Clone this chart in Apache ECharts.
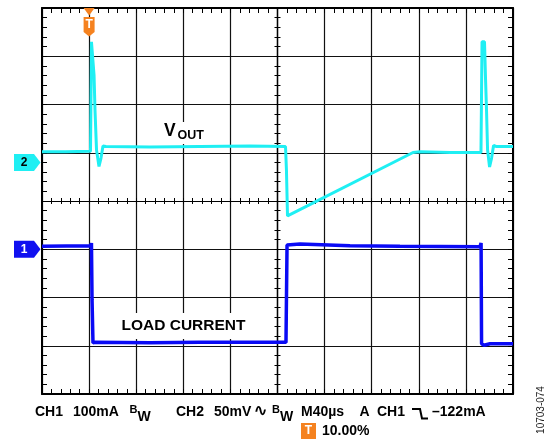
<!DOCTYPE html>
<html><head><meta charset="utf-8">
<script src="https://cdn.jsdelivr.net/npm/echarts@6/dist/echarts.min.js"></script>
<style>html,body{margin:0;padding:0;background:#fff}#c{width:550px;height:444px}</style>
</head><body><div id="c"></div>
<script>
// Time in µs relative to screen centre (40 µs/div); values in screen divisions
const ch2Time = [-200,-180,-158.8,-158.0,-156.7,-155.8,-155.0,-153.7,-151.6,-149.9,-148.2,-145.7,-108.3,-65.8,-23.4,6.8,7.6,8.5,9.8,115.1,121.0,146.5,172.8,173.7,175.8,176.7,177.5,178.4,180.1,181.8,183.5,185.6,200];
const ch2Div  = [1.02,1.02,1.03,3.30,3.30,2.61,1.89,1.06,0.715,0.89,1.14,1.13,1.12,1.13,1.14,1.13,0.64,-0.31,-0.29,1.005,1.02,1.005,1.005,3.30,3.30,2.51,1.89,1.06,0.705,0.89,1.15,1.13,1.13];
const ch1Time = [-200,-158.4,-158.0,-157.5,-156.7,-155.0,-108.3,-65.8,7.2,8.1,8.9,19.1,61.6,104,172,172.9,173.3,175.4,180.5,200];
const ch1Div  = [-0.94,-0.93,-0.87,-2.05,-2.94,-2.93,-2.94,-2.93,-2.93,-0.91,-0.88,-0.89,-0.93,-0.94,-0.95,-0.87,-2.96,-2.99,-2.96,-2.96];
const ch2Ref = 0.8, ch1Ref = -1.0, trigTime = -160;
const ch2Name = 'VOUT', ch1Name = 'LOAD CURRENT';
const row1 = [['CH1',35],['100mA',73],['CH2',176],['50mV',214],['M40µs',301],['A',359.5],['CH1',377],['\u2013122mA',432]];
const trigPct = '10.00%';
const figId = '10703-074';

const CYAN = '#1FEFF3', BLUE = '#0A0AF5', ORANGE = '#F5821F';
const FONT = '"Liberation Sans", Arial, Helvetica, sans-serif';
const tl = {color:'#000', width:1};
function borderX(pos, split){return {type:'value',min:-200,max:200,interval:40,position:pos,
  axisLine:{show:true,onZero:false,lineStyle:{color:'#000',width:2}},
  axisTick:{show:true,inside:true,length:5,lineStyle:tl},
  minorTick:{show:true,splitNumber:5,length:5,lineStyle:tl},
  splitLine:{show:split,lineStyle:{color:'#111',width:1.2}},axisLabel:{show:false}};}
function borderY(pos, split){return {type:'value',min:-4,max:4,interval:1,position:pos,
  axisLine:{show:true,onZero:false,lineStyle:{color:'#000',width:2}},
  axisTick:{show:true,inside:true,length:5,lineStyle:tl},
  minorTick:{show:true,splitNumber:5,length:5,lineStyle:tl},
  splitLine:{show:split,lineStyle:{color:'#111',width:1.2}},axisLabel:{show:false}};}
function centerX(inside){return {type:'value',min:-200,max:200,interval:40,position:'bottom',
  axisLine:{show:true,onZero:true,onZeroAxisIndex:0,lineStyle:{color:'#000',width:1.2}},
  axisTick:{show:true,inside:inside,length:3,lineStyle:tl},
  minorTick:{show:true,splitNumber:5,length:3,lineStyle:tl},
  splitLine:{show:false},axisLabel:{show:false}};}
function centerY(inside){return {type:'value',min:-4,max:4,interval:1,position:'left',
  axisLine:{show:true,onZero:true,onZeroAxisIndex:0,lineStyle:{color:'#000',width:1.2}},
  axisTick:{show:true,inside:inside,length:3,lineStyle:tl},
  minorTick:{show:true,splitNumber:5,length:3,lineStyle:tl},
  splitLine:{show:false},axisLabel:{show:false}};}

const chart = echarts.init(document.getElementById('c'));
chart.setOption({
  animation:false,
  backgroundColor:'#fff',
  grid:{left:42,top:8,width:471,height:386,show:false},
  xAxis:[borderX('bottom',true),borderX('top',false),centerX(true),centerX(false)],
  yAxis:[borderY('left',true),borderY('right',false),centerY(true),centerY(false)],
  series:[
    {type:'line',name:ch1Name,xAxisIndex:0,yAxisIndex:0,showSymbol:false,z:5,
     data:ch1Time.map((t,i)=>[t,ch1Div[i]]),lineStyle:{color:BLUE,width:3.5},itemStyle:{color:BLUE}},
    {type:'line',name:ch2Name,xAxisIndex:0,yAxisIndex:0,showSymbol:false,z:5,
     data:ch2Time.map((t,i)=>[t,ch2Div[i]]),lineStyle:{color:CYAN,width:3},itemStyle:{color:CYAN}}
  ]
});

const P = (t,v)=>chart.convertToPixel({seriesIndex:0},[t,v]);
const g = [];
function txt(s,x,y,size,opts){g.push(Object.assign({type:'text',x:x,y:y,z:100,style:Object.assign({text:s,font:'bold '+size+'px '+FONT,fill:'#000',align:'left',verticalAlign:'middle'},opts||{})}));}
// level markers
function level(v,color,label,tcol){
  const y = P(0,v)[1];
  g.push({type:'polygon',z:100,shape:{points:[[14,y-8.5],[34,y-8.5],[40.5,y],[34,y+8.5],[14,y+8.5]]},style:{fill:color}});
  txt(label,24,y+0.5,12,{fill:tcol,align:'center'});
}
level(ch2Ref,CYAN,'2','#000');
level(ch1Ref,'#1010F0','1','#fff');
// trigger marker
const tx = P(trigTime,0)[0];
g.push({type:'polygon',z:100,shape:{points:[[tx-5.5,8],[tx+5.5,8],[tx,15.5]]},style:{fill:ORANGE}});
g.push({type:'polygon',z:100,shape:{points:[[tx-5.5,17],[tx+5.5,17],[tx+5.5,32],[tx,36.5],[tx-5.5,32]]},style:{fill:ORANGE}});
txt('T',tx,25,12,{fill:'#fff',align:'center'});
// channel labels
g.push({type:'rect',z:99,shape:{x:160,y:122,width:46,height:22},style:{fill:'#fff'}});
txt('V',164,131.5,17.5);
txt('OUT',177.5,136,12.5);
g.push({type:'rect',z:99,shape:{x:117,y:313,width:133,height:26},style:{fill:'#fff'}});
txt(ch1Name,121.5,325.5,15.5);
// footer
const R1 = 412, R2 = 431;
row1.forEach(([s,x])=>txt(s,x,R1,14));
txt('B',129.5,R1-2.5,11); txt('W',137.5,R1+5,14);
txt('B',272,R1-2.5,11); txt('W',280,R1+5,14);
txt('\u223F',253.5,R1,17,{font:'bold 17px "DejaVu Sans"'});
g.push({type:'polyline',z:100,shape:{points:[[412,R1-3],[420,R1-3],[422,R1+6.5],[428,R1+6.5]]},style:{stroke:'#000',lineWidth:2,fill:null}});
g.push({type:'rect',z:100,shape:{x:301,y:R2-8,width:15,height:16},style:{fill:ORANGE}});
txt('T',308.5,R2,12,{fill:'#fff',align:'center'});
txt(trigPct,322,R2,14);
g.push({type:'text',z:100,x:541,y:410,rotation:Math.PI/2,style:{text:figId,font:'10px '+FONT,fill:'#222',align:'center',verticalAlign:'middle'}});
chart.setOption({graphic:{elements:g}});
</script></body></html>
